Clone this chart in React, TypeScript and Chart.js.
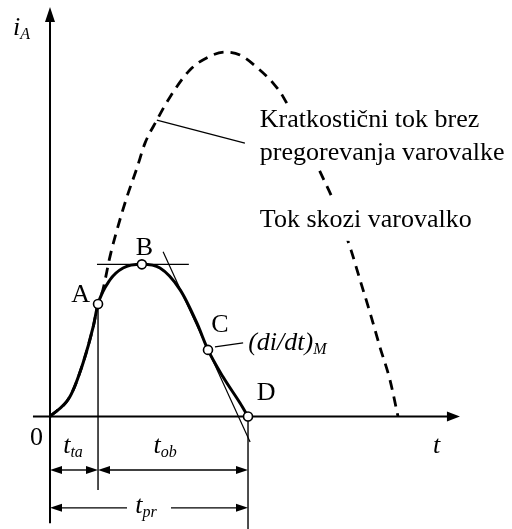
import { useEffect, useRef } from "react";
import { Chart, registerables } from "chart.js";

Chart.register(...registerables);

// Prospective short-circuit current (fuse does not melt): t in ms, i in kA
const PROSPECTIVE_T = [0, 0.57, 0.95, 1.24, 1.38, 1.52, 1.72, 1.95, 2.21, 2.5, 2.73, 3.07, 3.45, 4.02, 4.6, 5.03, 5.46, 6.03, 6.41, 6.7, 7.87, 8.16, 8.65, 8.91, 9.2, 9.48, 9.77, 10];
const PROSPECTIVE_I = [0, 0.54, 1.47, 2.46, 3.09, 3.48, 4.38, 5.21, 6.03, 6.83, 7.51, 8.14, 8.78, 9.52, 9.9, 10.01, 9.93, 9.52, 9.16, 8.78, 6.5, 5.89, 4.57, 3.75, 2.84, 1.91, 1.0, 0];

// Current let through by the fuse
const FUSE_T = [0, 0.57, 0.95, 1.24, 1.38, 1.72, 2.1, 2.64, 3.16, 3.74, 4.22, 4.54, 4.97, 5.46, 5.69];
const FUSE_I = [0, 0.54, 1.47, 2.46, 3.09, 3.75, 4.08, 4.18, 4.08, 3.48, 2.57, 1.83, 1.09, 0.37, 0];

// Marked points on the fuse current (index into FUSE_T / FUSE_I)
const POINT_NAMES = ["A", "B", "C", "D"];
const POINT_INDEX = [4, 7, 11, 14];

// Steepest fall of the current, at C (kA/ms)
const DIDT_MAX = -2.09;

// Texts
const SHORT_CIRCUIT_TEXT = ["Kratkostični tok brez", "pregorevanja varovalke"];
const FUSE_TEXT = "Tok skozi varovalko";

// Plot window (ms, kA)
const X_MIN = -1.437;
const X_MAX = 13.276;
const Y_MIN = -3.091;
const Y_MAX = 11.442;

const SERIF = '"Liberation Serif", "Times New Roman", serif';
const F_MAIN = `26px ${SERIF}`;
const F_ITAL = `italic 26px ${SERIF}`;
const F_SUB = `italic 16px ${SERIF}`;

type Part = { s: string; sub?: boolean };

function richWidth(ctx: CanvasRenderingContext2D, parts: Part[], font: string) {
  let w = 0;
  for (const p of parts) {
    ctx.font = p.sub ? F_SUB : font;
    w += ctx.measureText(p.s).width;
  }
  return w;
}

function drawRich(
  ctx: CanvasRenderingContext2D,
  x: number,
  y: number,
  parts: Part[],
  font: string,
  align: "left" | "center" | "right" = "left"
) {
  const w = richWidth(ctx, parts, font);
  let cx = align === "left" ? x : align === "center" ? x - w / 2 : x - w;
  ctx.textAlign = "left";
  ctx.textBaseline = "alphabetic";
  for (const p of parts) {
    ctx.font = p.sub ? F_SUB : font;
    ctx.fillText(p.s, cx, y + (p.sub ? 4 : 0));
    cx += ctx.measureText(p.s).width;
  }
}

function seg(ctx: CanvasRenderingContext2D, x1: number, y1: number, x2: number, y2: number, w: number) {
  ctx.lineWidth = w;
  ctx.beginPath();
  ctx.moveTo(x1, y1);
  ctx.lineTo(x2, y2);
  ctx.stroke();
}

function head(ctx: CanvasRenderingContext2D, x: number, y: number, dx: number, dy: number, len: number, half: number) {
  const nx = -dy;
  const ny = dx;
  ctx.beginPath();
  ctx.moveTo(x, y);
  ctx.lineTo(x - dx * len + nx * half, y - dy * len + ny * half);
  ctx.lineTo(x - dx * len - nx * half, y - dy * len - ny * half);
  ctx.closePath();
  ctx.fill();
}

// Horizontal dimension line with arrowheads at both ends, optional gap for a label
function dimension(ctx: CanvasRenderingContext2D, x1: number, x2: number, y: number, gap = 0) {
  const len = 12;
  const half = 4;
  if (gap > 0) {
    const mid = (x1 + x2) / 2;
    seg(ctx, x1 + len - 1, y, mid - gap, y, 1.4);
    seg(ctx, mid + gap, y, x2 - len + 1, y, 1.4);
  } else {
    seg(ctx, x1 + len - 1, y, x2 - len + 1, y, 1.4);
  }
  head(ctx, x1, y, -1, 0, len, half);
  head(ctx, x2, y, 1, 0, len, half);
}

const pt = (k: number) => ({ t: FUSE_T[POINT_INDEX[k]], i: FUSE_I[POINT_INDEX[k]] });

const diagram = {
  id: "diagram",
  beforeDatasetsDraw(chart: any) {
    const ctx: CanvasRenderingContext2D = chart.ctx;
    const X = (t: number) => chart.scales.x.getPixelForValue(t);
    const Y = (i: number) => chart.scales.y.getPixelForValue(i);
    const A = pt(0);
    const D = pt(3);
    ctx.save();
    ctx.strokeStyle = "#000";
    ctx.fillStyle = "#000";
    ctx.lineCap = "butt";

    // t axis
    seg(ctx, X(-0.49), Y(0), X(11.78) - 10, Y(0), 2);
    head(ctx, X(11.78), Y(0), 1, 0, 13, 5);
    // i axis
    seg(ctx, X(0), Y(-2.93), X(0), Y(11.25) + 10, 2);
    head(ctx, X(0), Y(11.25), 0, -1, 15, 5);

    // extension lines
    seg(ctx, X(A.t), Y(A.i), X(A.t), Y(-2.02), 1.4);
    seg(ctx, X(D.t), Y(0), X(D.t), Y(Y_MIN), 1.4);

    // dimension lines
    dimension(ctx, X(0), X(A.t), Y(-1.47));
    dimension(ctx, X(A.t), X(D.t), Y(-1.47));
    dimension(ctx, X(0), X(D.t), Y(-2.51), 22);
    ctx.restore();
  },
  afterDatasetsDraw(chart: any) {
    const ctx: CanvasRenderingContext2D = chart.ctx;
    const X = (t: number) => chart.scales.x.getPixelForValue(t);
    const Y = (i: number) => chart.scales.y.getPixelForValue(i);
    const [A, B, C, D] = [pt(0), pt(1), pt(2), pt(3)];
    ctx.save();
    ctx.fillStyle = "#000";

    // axis labels
    drawRich(ctx, X(0) - 37, Y(11.25) + 28, [{ s: "i" }, { s: "A", sub: true }], F_ITAL);
    drawRich(ctx, X(11.78) - 27, Y(0) + 36.5, [{ s: "t" }], F_ITAL);
    drawRich(ctx, X(0) - 7, Y(0) + 28.5, [{ s: "0" }], F_MAIN, "right");

    // point names
    drawRich(ctx, X(A.t) - 8, Y(A.i) - 2, [{ s: POINT_NAMES[0] }], F_MAIN, "right");
    drawRich(ctx, X(B.t) + 2.5, Y(B.i) - 9.5, [{ s: POINT_NAMES[1] }], F_MAIN, "center");
    drawRich(ctx, X(C.t) + 12, Y(C.i) - 18, [{ s: POINT_NAMES[2] }], F_MAIN, "center");
    drawRich(ctx, X(D.t) + 18, Y(0) - 16.5, [{ s: POINT_NAMES[3] }], F_MAIN, "center");

    // slope label
    drawRich(ctx, X(5.55) + 5, Y(2.02) + 7, [{ s: "(di/dt)" }, { s: "M", sub: true }], F_ITAL);

    // time intervals
    const mid1 = (X(0) + X(A.t)) / 2;
    const mid2 = (X(A.t) + X(D.t)) / 2;
    const mid3 = (X(0) + X(D.t)) / 2;
    drawRich(ctx, mid1 - 1, Y(-1.47) - 17, [{ s: "t" }, { s: "ta", sub: true }], F_ITAL, "center");
    drawRich(ctx, mid2 - 8, Y(-1.47) - 17, [{ s: "t" }, { s: "ob", sub: true }], F_ITAL, "center");
    drawRich(ctx, mid3 - 3, Y(-2.51) + 5, [{ s: "t" }, { s: "pr", sub: true }], F_ITAL, "center");

    // curve descriptions on a white ground
    const tx = X(6.03);
    const b1 = Y(7.95);
    const b2 = Y(7.05);
    const b3 = Y(5.21);
    ctx.font = F_MAIN;
    const w12 = Math.max(...SHORT_CIRCUIT_TEXT.map((s) => ctx.measureText(s).width));
    const w3 = ctx.measureText(FUSE_TEXT).width;
    ctx.fillStyle = "#fff";
    ctx.fillRect(tx - 3, b1 - 23, w12 + 6, b2 - b1 + 32);
    ctx.fillRect(tx - 3, b3 - 26, w3 + 6, 40);
    ctx.fillStyle = "#000";
    drawRich(ctx, tx, b1, [{ s: SHORT_CIRCUIT_TEXT[0] }], F_MAIN);
    drawRich(ctx, tx, b2, [{ s: SHORT_CIRCUIT_TEXT[1] }], F_MAIN);
    drawRich(ctx, tx, b3, [{ s: FUSE_TEXT }], F_MAIN);
    ctx.restore();
  },
};

const xy = (ts: number[], is: number[]) => ts.map((t, k) => ({ x: t, y: is[k] }));

function thin(data: { x: number; y: number }[]) {
  return {
    data,
    showLine: true,
    borderColor: "#000",
    borderWidth: 1.2,
    pointRadius: 0,
    tension: 0,
    order: 2,
  };
}

export default function App() {
  const ref = useRef<HTMLCanvasElement>(null);

  useEffect(() => {
    const B = pt(1);
    const C = pt(2);
    const cTan = (t: number) => C.i + DIDT_MAX * (t - C.t);
    const dashedK = 11;

    const chart = new Chart(ref.current!, {
      type: "scatter",
      data: {
        datasets: [
          {
            label: "points",
            data: POINT_INDEX.map((k) => ({ x: FUSE_T[k], y: FUSE_I[k] })),
            showLine: false,
            pointRadius: 4.5,
            pointBackgroundColor: "#fff",
            pointBorderColor: "#000",
            pointBorderWidth: 1.6,
            order: 0,
          } as any,
          {
            label: "fuse",
            data: xy(FUSE_T, FUSE_I),
            showLine: true,
            borderColor: "#000",
            borderWidth: 3,
            pointRadius: 0,
            cubicInterpolationMode: "monotone",
            order: 1,
          },
          // horizontal tangent at B
          thin([
            { x: 1.35, y: B.i },
            { x: 3.99, y: B.i },
          ]),
          // tangent of steepest fall at C
          thin([
            { x: 3.25, y: cTan(3.25) },
            { x: 5.75, y: cTan(5.75) },
          ]),
          // leader to the slope label
          thin([
            { x: 4.74, y: 1.91 },
            { x: 5.55, y: 2.02 },
          ]),
          // leader to the short-circuit current text
          thin([
            { x: PROSPECTIVE_T[dashedK], y: PROSPECTIVE_I[dashedK] },
            { x: 5.6, y: 7.51 },
          ]),
          {
            label: "prospective",
            data: xy(PROSPECTIVE_T, PROSPECTIVE_I),
            showLine: true,
            borderColor: "#000",
            borderWidth: 2.8,
            borderDash: [10, 7],
            pointRadius: 0,
            cubicInterpolationMode: "monotone",
            order: 4,
          },
        ],
      },
      options: {
        animation: false,
        responsive: false,
        events: [],
        layout: { padding: 0, autoPadding: false },
        plugins: { legend: { display: false }, tooltip: { enabled: false }, title: { display: false } },
        scales: {
          x: { type: "linear", min: X_MIN, max: X_MAX, display: false },
          y: { type: "linear", min: Y_MIN, max: Y_MAX, display: false },
        },
      },
      plugins: [diagram],
    });
    return () => chart.destroy();
  }, []);

  return (
    <div style={{ position: "fixed", left: 0, top: 0, width: 512, height: 529, background: "#fff" }}>
      <canvas ref={ref} width={512} height={529} style={{ display: "block" }} />
    </div>
  );
}
